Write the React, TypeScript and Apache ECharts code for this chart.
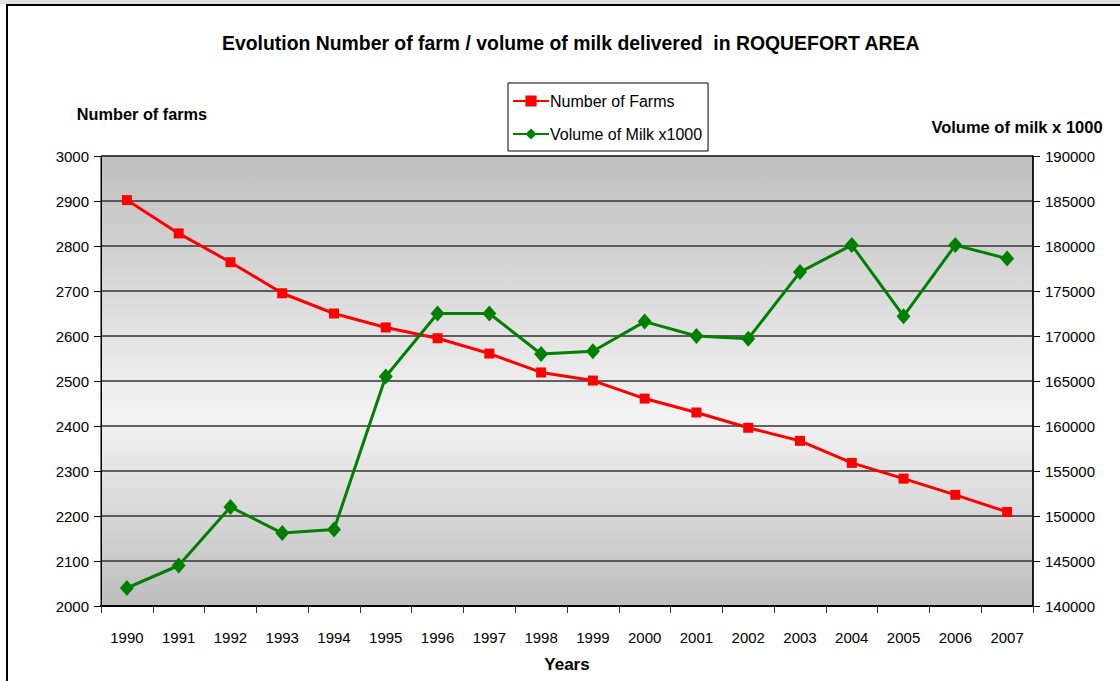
import React, { useEffect, useRef } from "react";
import * as echarts from "echarts";

const years = ["1990","1991","1992","1993","1994","1995","1996","1997","1998","1999","2000","2001","2002","2003","2004","2005","2006","2007"];
const farms = [2902, 2828, 2764, 2695, 2650, 2619, 2595, 2561, 2519, 2501, 2461, 2430, 2396, 2367, 2318, 2283, 2247, 2209];
const milk = [142000, 144500, 151000, 148100, 148500, 165500, 172500, 172500, 168000, 168300, 171600, 170000, 169700, 177100, 180100, 172200, 180100, 178600];

const FONT = "'Liberation Sans', Arial, sans-serif";

export default function App() {
  const ref = useRef<HTMLDivElement>(null);
  useEffect(() => {
    document.body.style.margin = "0";
    const chart = echarts.init(ref.current!, null, { renderer: "svg" });
    chart.setOption({
      animation: false,
      backgroundColor: "#ffffff",
      textStyle: { fontFamily: FONT },
      title: {
        text: "Evolution Number of farm / volume of milk delivered  in ROQUEFORT AREA",
        left: 217,
        top: 28,
        textStyle: { fontFamily: FONT, fontSize: 19.4, fontWeight: "bold", color: "#000" },
      },
      graphic: [
        { type: "rect", shape: { x: 0, y: 0, width: 1120, height: 4 }, style: { fill: "#e2e2e2" }, silent: true },
        { type: "rect", shape: { x: 7, y: 5, width: 1200, height: 800 }, style: { fill: "none", stroke: "#000", lineWidth: 2 }, silent: true },
      ],
      legend: {
        orient: "vertical",
        left: 508,
        top: 83,
        width: 200,
        padding: [10, 6, 9, 4],
        itemGap: 17,
        itemWidth: 36,
        itemHeight: 14,
        borderColor: "#000",
        borderWidth: 1,
        backgroundColor: "#fff",
        textStyle: { fontFamily: FONT, fontSize: 16, color: "#000", padding: [0, 14, 0, -4] },
        data: ["Number of Farms", "Volume of Milk x1000"],
      },
      grid: {
        left: 101,
        right: 87,
        top: 156,
        height: 450,
        show: true,
        borderColor: "#000",
        borderWidth: 1,
        backgroundColor: new echarts.graphic.LinearGradient(0, 0, 0, 1, [
          { offset: 0, color: "#bfbfbf" },
          { offset: 0.58, color: "#f3f3f3" },
          { offset: 1, color: "#bdbdbd" },
        ]),
      },
      xAxis: {
        type: "category",
        data: years,
        boundaryGap: true,
        name: "Years",
        nameLocation: "middle",
        nameGap: 50,
        nameTextStyle: { fontFamily: FONT, fontSize: 17, fontWeight: "bold", color: "#000" },
        axisLine: { lineStyle: { color: "#000", width: 2 } },
        axisTick: { show: true, length: 7, lineStyle: { color: "#333", width: 1 } },
        axisLabel: { fontFamily: FONT, fontSize: 15, color: "#000", margin: 24 },
      },
      yAxis: [
        {
          type: "value",
          min: 2000,
          max: 3000,
          interval: 100,
          position: "left",
          name: "Number of farms",
          nameLocation: "end",
          nameGap: 34,
          nameTextStyle: { fontFamily: FONT, fontSize: 16.3, fontWeight: "bold", color: "#000", align: "center", padding: [0, 0, 0, 82] },
          axisLine: { show: true, lineStyle: { color: "#000", width: 1 } },
          axisTick: { show: true, length: 7, lineStyle: { color: "#000" } },
          axisLabel: { fontFamily: FONT, fontSize: 15, color: "#000", margin: 12, formatter: (v: number) => String(v) },
          splitLine: { show: true, lineStyle: { color: "#333", width: 1.5 } },
        },
        {
          type: "value",
          min: 140000,
          max: 190000,
          interval: 5000,
          position: "right",
          name: "Volume of milk x 1000",
          nameLocation: "end",
          nameGap: 21,
          nameTextStyle: { fontFamily: FONT, fontSize: 16.5, fontWeight: "bold", color: "#000", align: "center", padding: [0, 32, 0, 0] },
          axisLine: { show: true, lineStyle: { color: "#000", width: 1.5 } },
          axisTick: { show: true, length: 7, lineStyle: { color: "#000" } },
          axisLabel: { fontFamily: FONT, fontSize: 15, color: "#000", margin: 12, formatter: (v: number) => String(v) },
          splitLine: { show: false },
        },
      ],
      series: [
        {
          name: "Number of Farms",
          type: "line",
          yAxisIndex: 0,
          data: farms,
          symbol: "rect",
          symbolSize: 10,
          lineStyle: { color: "#ff0000", width: 3 },
          itemStyle: { color: "#ff0000" },
          z: 3,
        },
        {
          name: "Volume of Milk x1000",
          type: "line",
          yAxisIndex: 1,
          data: milk,
          symbol: "diamond",
          symbolSize: [14, 16],
          lineStyle: { color: "#008000", width: 3 },
          itemStyle: { color: "#008000" },
          z: 4,
        },
      ],
    });
    return () => chart.dispose();
  }, []);
  return <div ref={ref} style={{ width: 1120, height: 681 }} />;
}
